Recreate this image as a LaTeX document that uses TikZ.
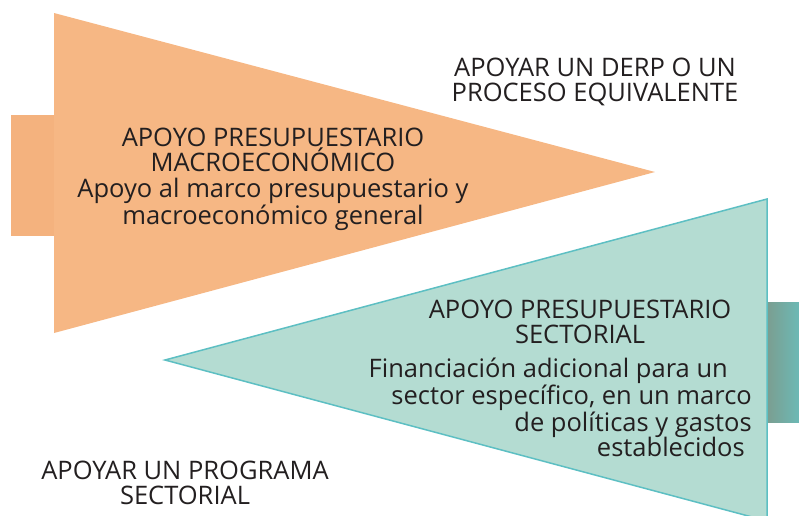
\documentclass[tikz,border=0pt]{standalone}
\usepackage{fontspec}
\setmainfont{Open Sans}
\definecolor{bsink}{HTML}{231F20}
\definecolor{bsorange}{HTML}{F6B784}
\definecolor{bsorangetab}{HTML}{F4B27E}
\definecolor{bsteal}{HTML}{B4DCD2}
\definecolor{bstealline}{HTML}{5DBFC3}
\definecolor{bstealdark}{HTML}{7C9C8E}
\definecolor{bstealtab}{HTML}{6CB9B5}
\usetikzlibrary{positioning}
\tikzset{
  bstxt/.style  ={font=\fontsize{25.5}{25.5}\selectfont, text=bsink, inner sep=0pt},
  bshead/.style ={bstxt, align=center},
  bsbody/.style ={bstxt, align=right},
  bsortri/.style={fill=bsorange},
  bstltri/.style={fill=bsteal, draw=bstealline, line width=1.5pt, line join=miter},
}
\begin{document}
\begin{tikzpicture}[x=1pt,y=-1pt]
  \useasboundingbox (0,0) rectangle (799,515);
  \clip (0,0) rectangle (799,515);
  % orange block
  \fill[bsorangetab] (11,115) rectangle (56,236);
  \fill[bsortri] (54,13) -- (655,172) -- (54,333) -- cycle;
  % teal block
  \shade[left color=bstealdark, right color=bstealtab] (765,302) rectangle (799,422);
  \filldraw[bstltri] (767,199) -- (165,360) -- (767,521) -- cycle;
  % labels
  \node[bshead] (derp) at (595,82) {APOYAR UN DERP O UN\\PROCESO EQUIVALENTE};
  \node[bshead] (macro) at (273,179)
    {APOYO PRESUPUESTARIO\\MACROECONÓMICO\\Apoyo al marco presupuestario y\\macroeconómico general};
  \node[bshead] (sect) at (580,322) {APOYO PRESUPUESTARIO\\SECTORIAL};
  \node[bsbody, anchor=north east] (fin) at (752,358)
    {Financiación adicional para un\hspace*{24pt}\\sector específico, en un marco\\de políticas y gastos\\establecidos\hspace*{7pt}};
  \node[bshead] (prog) at (185,483) {APOYAR UN PROGRAMA\\SECTORIAL};
\end{tikzpicture}
\end{document}
